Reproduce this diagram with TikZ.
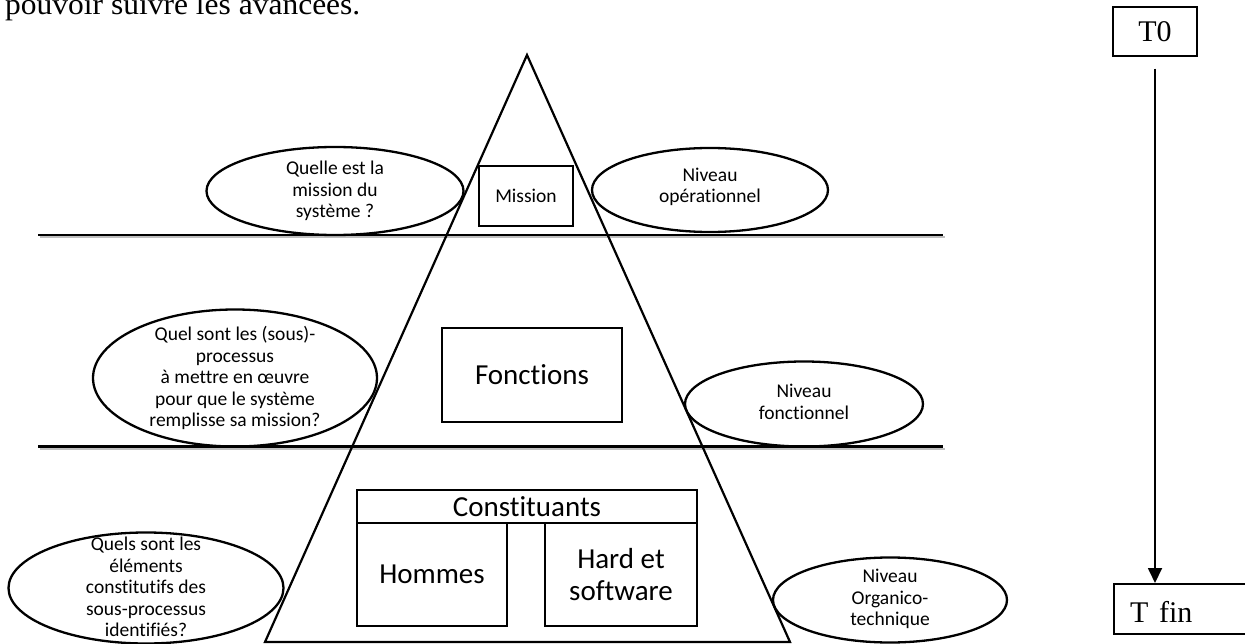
\documentclass[tikz,border=0pt]{standalone}
\usepackage{fontspec}
\setmainfont{Liberation Serif}
\newfontfamily\calib[Ligatures=NoCommon]{Carlito}
\usetikzlibrary{shapes.geometric,arrows.meta}
\tikzset{
  hline/.style={line width=2.2pt},
  hshadow/.style={line width=2pt, draw=black!25},
  tri/.style={line width=2.2pt, line join=miter},
  boxn/.style={draw, line width=2.3pt, rectangle, inner sep=0pt},
  ell/.style={draw, line width=2.3pt, ellipse, inner sep=0pt},
  small/.style={font=\calib\fontsize{19.5}{21.5}\selectfont, align=center, inner sep=0pt},
  big/.style={font=\calib\fontsize{29}{32}\selectfont, align=center},
  tbox/.style={draw, line width=1.5pt, rectangle, inner sep=0pt},
  tarrow/.style={line width=1.8pt, -{Triangle[length=15pt,width=14pt]}}
}
\begin{document}
\begin{tikzpicture}[x=1pt,y=-1pt]
\useasboundingbox (0,0) rectangle (1245,644);
% top text
\node[anchor=base west, inner sep=0pt, font=\fontsize{30}{30}\selectfont] (toptext) at (5,15) {\scalebox{1.05}[1]{pouvoir suivre les avancées.}};
% horizontal level lines
\coordinate (l1a) at (38,235); \coordinate (l1b) at (943,235);
\coordinate (l2a) at (38,446.5); \coordinate (l2b) at (943,446.5);
\draw[hshadow] ([shift={(1.5,2.5)}]l1a) -- ([shift={(1.5,2.5)}]l1b);
\draw[hshadow] ([shift={(1.5,2.5)}]l2a) -- ([shift={(1.5,2.5)}]l2b);
\draw[hline] (l1a) -- (l1b);
\draw[hline] (l2a) -- (l2b);
% triangle
\coordinate (apex) at (527,55);
\coordinate (br) at (790,642);
\coordinate (bl) at (265,642);
\draw[tri] (apex) -- (br) -- (bl) -- cycle;
% boxes
\node[boxn, minimum width=94pt, minimum height=60pt, font=\calib\fontsize{19.5}{22}\selectfont] (mission) at (526,196) {Mission};
\node[boxn, minimum width=180pt, minimum height=94pt, big] (fonctions) at (532,375) {Fonctions};
\node[boxn, minimum width=340pt, minimum height=33pt, big] (constituants) at (527,506.5) {Constituants};
\node[boxn, minimum width=150pt, minimum height=103pt, big] (hommes) at (432,574.5) {Hommes};
\node[boxn, minimum width=152pt, minimum height=103pt, big] (hard) at (621,574.5) {Hard et\\software};
% ellipses
\node[ell, minimum width=257pt, minimum height=88pt] (e1) at (335,191) {};
\node[small] (t1) at (e1) {Quelle est la\\mission du\\système ?};
\node[ell, minimum width=236pt, minimum height=84pt] (e2) at (710,190) {};
\node[small] (t2) at ([yshift=3]e2) {Niveau\\opérationnel};
\node[ell, minimum width=284pt, minimum height=137pt] (e3) at (235,378) {};
\node[small] (t3) at (e3) {Quel sont les (sous)-\\processus\\à mettre en œuvre\\pour que le système\\remplisse sa mission?};
\node[ell, minimum width=238pt, minimum height=85pt] (e4) at (804,404) {};
\node[small] (t4) at ([yshift=2]e4) {Niveau\\fonctionnel};
\node[ell, minimum width=275pt, minimum height=111pt] (e5) at (146,588) {};
\node[small] (t5) at ([yshift=1]e5) {Quels sont les\\éléments\\constitutifs des\\sous-processus\\identifiés?};
\node[ell, minimum width=234pt, minimum height=85pt] (e6) at (890,600) {};
\node[small] (t6) at ([yshift=1]e6) {Niveau\\Organico-\\technique};
% time axis
\node[tbox, minimum width=84pt, minimum height=49pt, font=\fontsize{30}{30}\selectfont] (T0) at (1155,31.5) {T0};
\node[tbox, minimum width=140pt, minimum height=50pt, anchor=north west] (Tfin) at (1113,583) {};
\node[anchor=base west, inner sep=0pt, font=\fontsize{30}{30}\selectfont] (Tfintext) at (1130,622) {T\hspace{0.1em} fin};
\draw[tarrow, shorten <=12pt] (T0.south) -- (T0.south |- Tfin.north);
\end{tikzpicture}
\end{document}
